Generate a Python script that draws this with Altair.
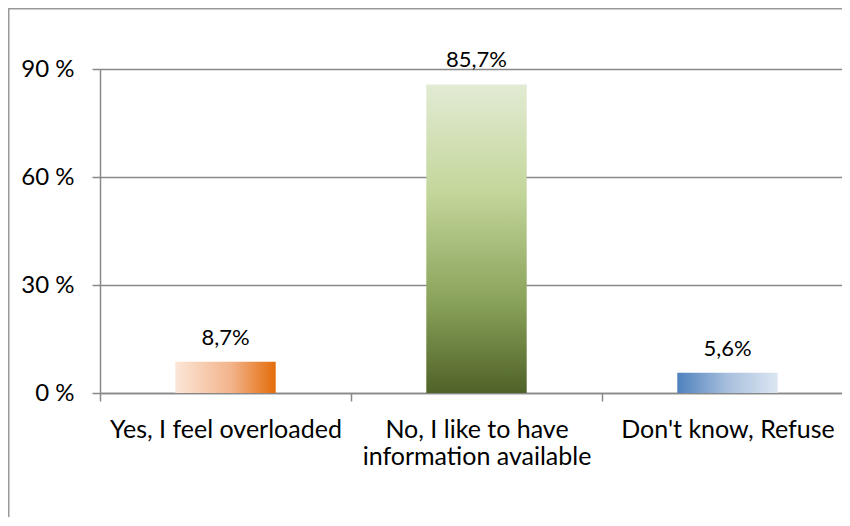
import altair as alt
import pandas as pd

categories = ["Yes, I feel overloaded", "No, I like to have\ninformation available", "Don't know, Refuse"]
values = [8.7, 85.7, 5.6]
y_ticks = [0, 30, 60, 90]

FONT = "Lato"
GRAY = "#888888"

df = pd.DataFrame({"cat": categories, "val": values})

x_enc = alt.X(
    "cat:N", sort=categories, title=None,
    scale=alt.Scale(paddingInner=0, paddingOuter=0),
    axis=alt.Axis(
        labelExpr="split(datum.label, '\\n')", labelAngle=0, tickBand="extent",
        tickSize=8, tickColor=GRAY, domainColor=GRAY, domainWidth=1.5, tickWidth=1.5,
        labelPadding=16, labelFontSize=25, labelFont=FONT, labelColor="black",
        labelLineHeight=27, labelLimit=0, grid=False,
    ),
)
y_enc = alt.Y(
    "val:Q", title=None,
    scale=alt.Scale(domain=[0, 90], nice=False),
    axis=alt.Axis(
        values=y_ticks, labelExpr="datum.value + ' %'", tickSize=8, tickColor=GRAY,
        domainColor=GRAY, domainWidth=1.5, tickWidth=1.5, gridColor=GRAY, gridWidth=1.5,
        labelPadding=18, labelFontSize=24, labelFont=FONT, labelColor="black", grid=True,
    ),
)

base = alt.Chart(df)

orange = alt.LinearGradient(
    gradient="linear", x1=0, x2=1, y1=0, y2=0,
    stops=[alt.GradientStop(color="#fce6d8", offset=0),
           alt.GradientStop(color="#f2b48c", offset=0.55),
           alt.GradientStop(color="#e46c0a", offset=1)],
)
green = alt.LinearGradient(
    gradient="linear", x1=0, x2=0, y1=0, y2=1,
    stops=[alt.GradientStop(color="#e2ebd3", offset=0),
           alt.GradientStop(color="#c3d69b", offset=0.35),
           alt.GradientStop(color="#8aa35a", offset=0.7),
           alt.GradientStop(color="#4f6228", offset=1)],
)
blue = alt.LinearGradient(
    gradient="linear", x1=0, x2=1, y1=0, y2=0,
    stops=[alt.GradientStop(color="#4f81bd", offset=0),
           alt.GradientStop(color="#a7bfdd", offset=0.5),
           alt.GradientStop(color="#dce6f2", offset=1)],
)

bar_w = alt.RelativeBandSize(0.4)
bars = []
for cat, grad in zip(categories, [orange, green, blue]):
    bars.append(
        base.mark_bar(color=grad, width=bar_w)
        .encode(x=x_enc, y=y_enc)
        .transform_filter(alt.datum.cat == cat)
    )

labels = base.transform_calculate(
    lab="replace(format(datum.val, '.1f'), '.', ',') + '%'"
).mark_text(dy=-17, baseline="alphabetic", fontSize=22, font=FONT, color="black").encode(
    x=x_enc, y=y_enc, text="lab:N"
)

frame_df = pd.DataFrame({"f": [0]})
frame_left = alt.Chart(frame_df).mark_rule(color="#999999", strokeWidth=2).encode(
    x=alt.value(-91.5), y=alt.value(-61), y2=alt.value(460)
)
frame_top = alt.Chart(frame_df).mark_rule(color="#999999", strokeWidth=2).encode(
    x=alt.value(-92), x2=alt.value(760), y=alt.value(-60.5)
)

chart = alt.layer(*bars, labels, frame_left, frame_top).properties(
    width=753, height=324,
    autosize=alt.AutoSizeParams(type="none"),
    padding={"left": 92, "top": 61, "right": -11, "bottom": 124},
).configure_view(stroke=None)

chart.save("out.html", embed_options={"renderer": "svg", "actions": False})
